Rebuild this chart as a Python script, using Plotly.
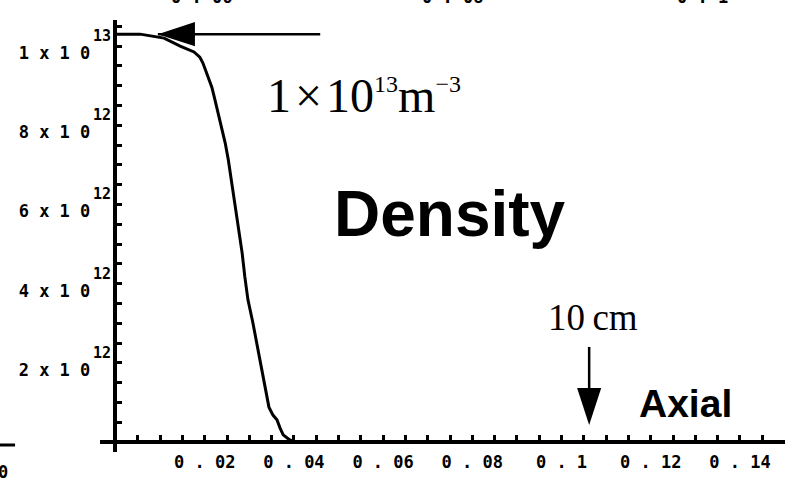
import plotly.graph_objects as go

# ---- data ----
axial_m = [0.0, 0.0055, 0.0109, 0.0145, 0.0176, 0.0189, 0.0196, 0.0205, 0.0216, 0.0223,
           0.0230, 0.0239, 0.0246, 0.0253, 0.0262, 0.0269, 0.0275, 0.0284, 0.0290, 0.0297,
           0.0308, 0.0315, 0.0322, 0.0331, 0.0338, 0.0344, 0.0353, 0.0362, 0.0369, 0.0376,
           0.0385, 0.0391, 0.0405, 0.150]
density_m3 = [1.030e13, 1.030e13, 1.020e13, 1.000e13, 0.985e13, 0.972e13, 0.957e13, 0.927e13,
              0.896e13, 0.864e13, 0.831e13, 0.795e13, 0.755e13, 0.712e13, 0.644e13, 0.593e13,
              0.535e13, 0.477e13, 0.417e13, 0.359e13, 0.301e13, 0.258e13, 0.220e13, 0.164e13,
              0.119e13, 0.088e13, 0.068e13, 0.056e13, 0.035e13, 0.018e13, 0.010e13, 0.005e13,
              0.0, 0.0]

x_tick_vals = [0.02, 0.04, 0.06, 0.08, 0.10, 0.12, 0.14]
x_tick_text = ["0 . 02", "0 . 04", "0 . 06", "0 . 08", "0 . 1", "0 . 12", "0 . 14"]
y_tick_vals = [2e12, 4e12, 6e12, 8e12, 1e13]
y_tick_text = ["2 x 1 0", "4 x 1 0", "6 x 1 0", "8 x 1 0", "1 x 1 0"]
y_tick_exp = ["12", "12", "12", "12", "13"]

# annotation anchors (data units)
peak_arrow_x = [0.0459, 0.0095]
peak_arrow_y = [1.03e13, 1.03e13]
mark_arrow_x = [0.1062, 0.1062]
mark_arrow_y = [0.240e13, 0.043e13]

top_cut_labels = ["0 . 06", "0 . 08", "0 . 1"]

fig = go.Figure()
fig.add_trace(go.Scatter(x=axial_m, y=density_m3, mode="lines",
                         line=dict(color="black", width=3), hoverinfo="skip"))
for ax_, ay_ in [(peak_arrow_x, peak_arrow_y), (mark_arrow_x, mark_arrow_y)]:
    fig.add_trace(go.Scatter(x=ax_, y=ay_, mode="lines+markers",
                             line=dict(color="black", width=2.5),
                             marker=dict(symbol=["circle", "arrow"], size=[0, 39],
                                         angleref="previous", color="black", opacity=1,
                                         line=dict(width=0)),
                             hoverinfo="skip"))

tickfont = dict(family="DejaVu Sans Mono", size=17, color="black", weight="bold")

fig.update_layout(
    width=786, height=479,
    margin=dict(l=100, r=1, t=20, b=27),
    paper_bgcolor="white", plot_bgcolor="white",
    showlegend=False,
    xaxis=dict(range=[-0.003475, 0.15011], anchor="free", position=0.0231,
               showline=True, linewidth=3.5, linecolor="black",
               showgrid=False, zeroline=False,
               ticks="inside", ticklen=5, tickwidth=2.5, tickcolor="black",
               tickmode="array", tickvals=x_tick_vals, ticktext=x_tick_text,
               tickfont=tickfont, ticklabelstandoff=4,
               minor=dict(dtick=0.005, tick0=0, ticks="inside", ticklen=5, tickwidth=2.5,
                          tickcolor="black", showgrid=False)),
    yaxis=dict(range=[-0.02525e13, 1.0657e13], anchor="free", position=0.0226,
               showline=True, linewidth=3.5, linecolor="black",
               showgrid=False, zeroline=False,
               ticks="inside", ticklen=5, tickwidth=2.5, tickcolor="black",
               tickmode="array", tickvals=y_tick_vals, ticktext=y_tick_text,
               tickfont=tickfont, ticklabelstandoff=20, ticklabelshift=7,
               minor=dict(dtick=0.5e12, tick0=0, ticks="inside", ticklen=5, tickwidth=2.5,
                          tickcolor="black", showgrid=False)),
)

# exponents of the y tick labels, raised above the mantissa like the original
for v, e in zip(y_tick_vals, y_tick_exp):
    fig.add_annotation(xref="paper", x=0.0185, y=v, xanchor="right", yanchor="middle",
                       yshift=10, showarrow=False, text=e,
                       font=dict(family="DejaVu Sans Mono", size=15, color="black",
                                 weight="bold"))

serif = "Liberation Serif"
sans = "Liberation Sans"
hair = "\u200a"
fig.add_annotation(x=0.0335, y=0.875e13, xanchor="left", yanchor="middle", showarrow=False,
                   text="1" + hair + "×" + hair + '10<sup><span style="font-size:24px">13</span></sup>'
                        'm<sup><span style="font-size:24px">−3</span></sup>',
                   font=dict(family=serif, size=48, color="black"))
fig.add_annotation(x=0.075, y=0.576e13, xanchor="center", yanchor="middle", showarrow=False,
                   text="<b>Density</b>", font=dict(family=sans, size=64, color="black"))
fig.add_annotation(x=0.1071, y=0.314e13, xanchor="center", yanchor="middle", showarrow=False,
                   text="10\u2009cm", font=dict(family=serif, size=37, color="black"))
fig.add_annotation(x=0.1279, y=0.096e13, xanchor="center", yanchor="middle", showarrow=False,
                   text="<b>Axial</b>", font=dict(family=sans, size=39, color="black"))

# fragments of neighbouring panels cut by the picture edge
for i, lab in enumerate(top_cut_labels):
    fig.add_annotation(xref="paper", yref="paper", x=[0.148, 0.514, 0.879][i], y=1.0255,
                       xanchor="center", yanchor="bottom", showarrow=False,
                       text=lab, font=tickfont)
fig.add_annotation(xref="paper", yref="paper", x=-0.142, y=-0.018, xanchor="center",
                   yanchor="top", showarrow=False, text="0", font=tickfont)
fig.add_shape(type="line", xref="paper", yref="paper", x0=-0.146, x1=-0.124,
              y0=0.0162, y1=0.0162, line=dict(color="black", width=3))

fig.write_html("out.html")
